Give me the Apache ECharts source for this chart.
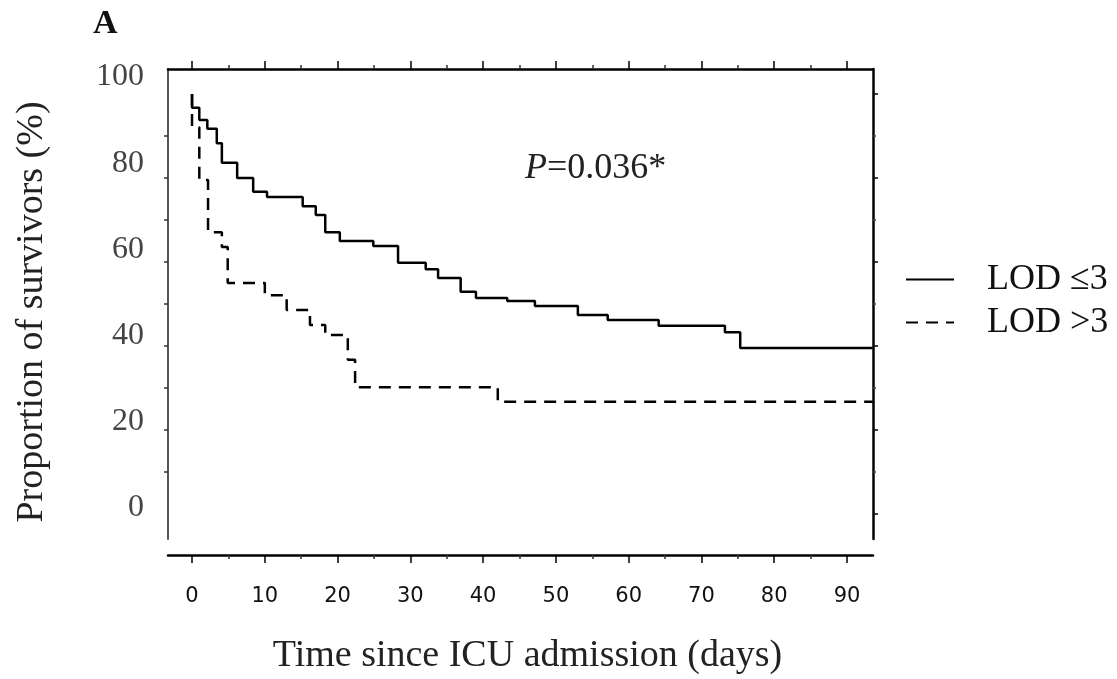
<!DOCTYPE html>
<html>
<head>
<meta charset="utf-8">
<script src="https://cdn.jsdelivr.net/npm/echarts/dist/echarts.min.js"></script>
<style>
  html, body { margin: 0; padding: 0; background: #fff; }
  #kmChart { width: 1117px; height: 679px; }
</style>
</head>
<body>
<div id="kmChart"></div>
<script>
// survival curves (days, % surviving)
const lowDays  = [0, 0, 1.0, 2.1, 3.4, 4.1, 6.2, 8.4, 10.3, 15.2, 17.0, 18.3, 20.3, 24.9, 28.3, 32.1, 33.8, 36.9, 39.0, 43.3, 47.1, 53.0, 57.1, 64.1, 73.2, 75.3, 93.5];
const lowSurv  = [100, 96.7, 93.8, 91.7, 88.3, 83.6, 80.0, 76.7, 75.5, 73.3, 71.2, 67.1, 65.0, 63.8, 59.8, 58.3, 56.2, 52.9, 51.4, 50.7, 49.5, 47.4, 46.2, 44.8, 43.3, 39.5, 39.5];
const highDays = [0, 0, 1.0, 2.2, 4.1, 4.9, 10.0, 13.0, 16.2, 18.3, 21.4, 22.4, 42.0, 93.5];
const highSurv = [100, 92.1, 79.5, 67.1, 63.6, 55.0, 52.1, 48.6, 45.0, 42.6, 36.7, 30.2, 26.7, 26.7];

const seriesNames = ['LOD \u22643', 'LOD >3'];
const xTicks = [0, 10, 20, 30, 40, 50, 60, 70, 80, 90];
const yTicks = [0, 20, 40, 60, 80, 100];

const pairs = (xs, ys) => xs.map((x, i) => [x, ys[i]]);

const serif = 'Liberation Serif';
const black = '#000';
const noAxis = { show: false };

const chart = echarts.init(document.getElementById('kmChart'));

chart.setOption({
  animation: false,
  backgroundColor: '#fff',
  title: [
    {
      text: 'A', left: 93, top: 7, padding: 0,
      textStyle: { fontFamily: serif, fontSize: 34, fontWeight: 'bold', color: '#111' }
    },
    {
      text: '{i|P}=0.036*', left: 525, top: 151, padding: 0,
      textStyle: {
        fontFamily: serif, fontSize: 36, fontWeight: 'normal', color: '#222',
        rich: { i: { fontFamily: serif, fontSize: 36, fontStyle: 'italic', color: '#222' } }
      }
    }
  ],
  legend: {
    data: seriesNames,
    orient: 'vertical',
    left: 905, top: 261, padding: 0,
    itemWidth: 48, itemHeight: 14, itemGap: 6,
    itemStyle: { opacity: 0 },
    textStyle: { fontFamily: serif, fontSize: 36, lineHeight: 37, color: '#111', padding: [0, 0, 0, 28] }
  },
  grid: [
    // 0: data box
    { left: 168, top: 69, width: 705, height: 486, outerBoundsMode: 'none' },
    // 1: x ticks and labels (0..90)
    { left: 192, top: 69, width: 655, height: 486, outerBoundsMode: 'none' },
    // 2: y labels as printed
    { left: 168, top: 77, width: 705, height: 431, outerBoundsMode: 'none' },
    // 3: left ticks 10..90
    { left: 168, top: 136, width: 705, height: 336, outerBoundsMode: 'none' },
    // 4: side lines
    { left: 168, top: 69, width: 705, height: 470, outerBoundsMode: 'none' },
    // 5: right ticks 0..100
    { left: 168, top: 94, width: 705, height: 420, outerBoundsMode: 'none' }
  ],
  xAxis: [
    {
      gridIndex: 0, type: 'value', position: 'bottom', min: -3.3, max: 93.54,
      axisLine: { show: true, onZero: false, lineStyle: { color: black, width: 2.5 } },
      axisTick: noAxis, axisLabel: noAxis, splitLine: noAxis
    },
    {
      gridIndex: 0, type: 'value', position: 'top', min: -3.3, max: 93.54,
      axisLine: { show: true, onZero: false, lineStyle: { color: black, width: 2.5 } },
      axisTick: noAxis, axisLabel: noAxis, splitLine: noAxis
    },
    {
      gridIndex: 1, type: 'value', position: 'bottom', min: xTicks[0], max: xTicks[xTicks.length - 1], interval: 10,
      axisLine: { show: false, onZero: false },
      axisTick: { show: true, length: 8, lineStyle: { color: black, width: 1.5 } },
      minorTick: { show: true, splitNumber: 2, length: 4, lineStyle: { color: '#333', width: 1.5 } },
      axisLabel: { margin: 31, fontFamily: 'DejaVu Sans', fontSize: 21, color: '#111' },
      splitLine: noAxis,
      name: 'Time since ICU admission (days)', nameLocation: 'middle', nameGap: 82,
      nameTextStyle: { fontFamily: serif, fontSize: 38, color: '#222', padding: [0, 0, 0, 16] }
    },
    {
      gridIndex: 1, type: 'value', position: 'top', min: xTicks[0], max: xTicks[xTicks.length - 1], interval: 10,
      axisLine: { show: false, onZero: false },
      axisTick: { show: true, length: 8, lineStyle: { color: black, width: 1.5 } },
      minorTick: { show: true, splitNumber: 2, length: 4, lineStyle: { color: '#333', width: 1.5 } },
      axisLabel: noAxis, splitLine: noAxis
    },
    { gridIndex: 2, type: 'value', show: false },
    { gridIndex: 3, type: 'value', show: false },
    { gridIndex: 4, type: 'value', show: false },
    { gridIndex: 5, type: 'value', show: false }
  ],
  yAxis: [
    {
      gridIndex: 0, type: 'value', min: -9.76, max: 105.95,
      axisLine: noAxis, axisTick: noAxis, axisLabel: noAxis, splitLine: noAxis,
      name: 'Proportion of survivors (%)', nameLocation: 'middle', nameGap: 117,
      nameTextStyle: { fontFamily: serif, fontSize: 38, color: '#222' }
    },
    { gridIndex: 1, type: 'value', show: false },
    {
      gridIndex: 2, type: 'value', min: yTicks[0], max: yTicks[yTicks.length - 1], interval: 20,
      axisLine: noAxis, axisTick: noAxis, splitLine: noAxis,
      axisLabel: { margin: 24, fontFamily: serif, fontSize: 32, color: '#444' }
    },
    {
      gridIndex: 3, type: 'value', min: 10, max: 90, interval: 10,
      axisLine: { show: false, onZero: false }, splitLine: noAxis, axisLabel: noAxis,
      axisTick: { show: true, length: 4, lineStyle: { color: '#333', width: 1.5 } }
    },
    {
      gridIndex: 4, type: 'value', position: 'left', min: 0, max: 1,
      axisLine: { show: true, onZero: false, lineStyle: { color: '#555', width: 2 } },
      axisTick: noAxis, axisLabel: noAxis, splitLine: noAxis
    },
    {
      gridIndex: 4, type: 'value', position: 'right', min: 0, max: 1,
      axisLine: { show: true, onZero: false, lineStyle: { color: black, width: 2.5 } },
      axisTick: noAxis, axisLabel: noAxis, splitLine: noAxis
    },
    {
      gridIndex: 5, type: 'value', position: 'right', min: 0, max: 100, interval: 20,
      axisLine: { show: false, onZero: false }, splitLine: noAxis, axisLabel: noAxis,
      axisTick: { show: true, length: 5, lineStyle: { color: black, width: 1.5 } },
      minorTick: { show: true, splitNumber: 2, length: 3, lineStyle: { color: '#444', width: 1.5 } }
    }
  ],
  series: [
    {
      name: seriesNames[0], type: 'line', step: 'end',
      xAxisIndex: 0, yAxisIndex: 0,
      data: pairs(lowDays, lowSurv),
      symbol: 'none',
      lineStyle: { color: black, width: 2.5, type: 'solid' },
      itemStyle: { color: black }
    },
    {
      name: seriesNames[1], type: 'line', step: 'end',
      xAxisIndex: 0, yAxisIndex: 0,
      data: pairs(highDays, highSurv),
      symbol: 'none',
      lineStyle: { color: black, width: 2.5, type: [12, 8] },
      itemStyle: { color: black }
    }
  ]
});

window.addEventListener('resize', chart.resize);
</script>
</body>
</html>
